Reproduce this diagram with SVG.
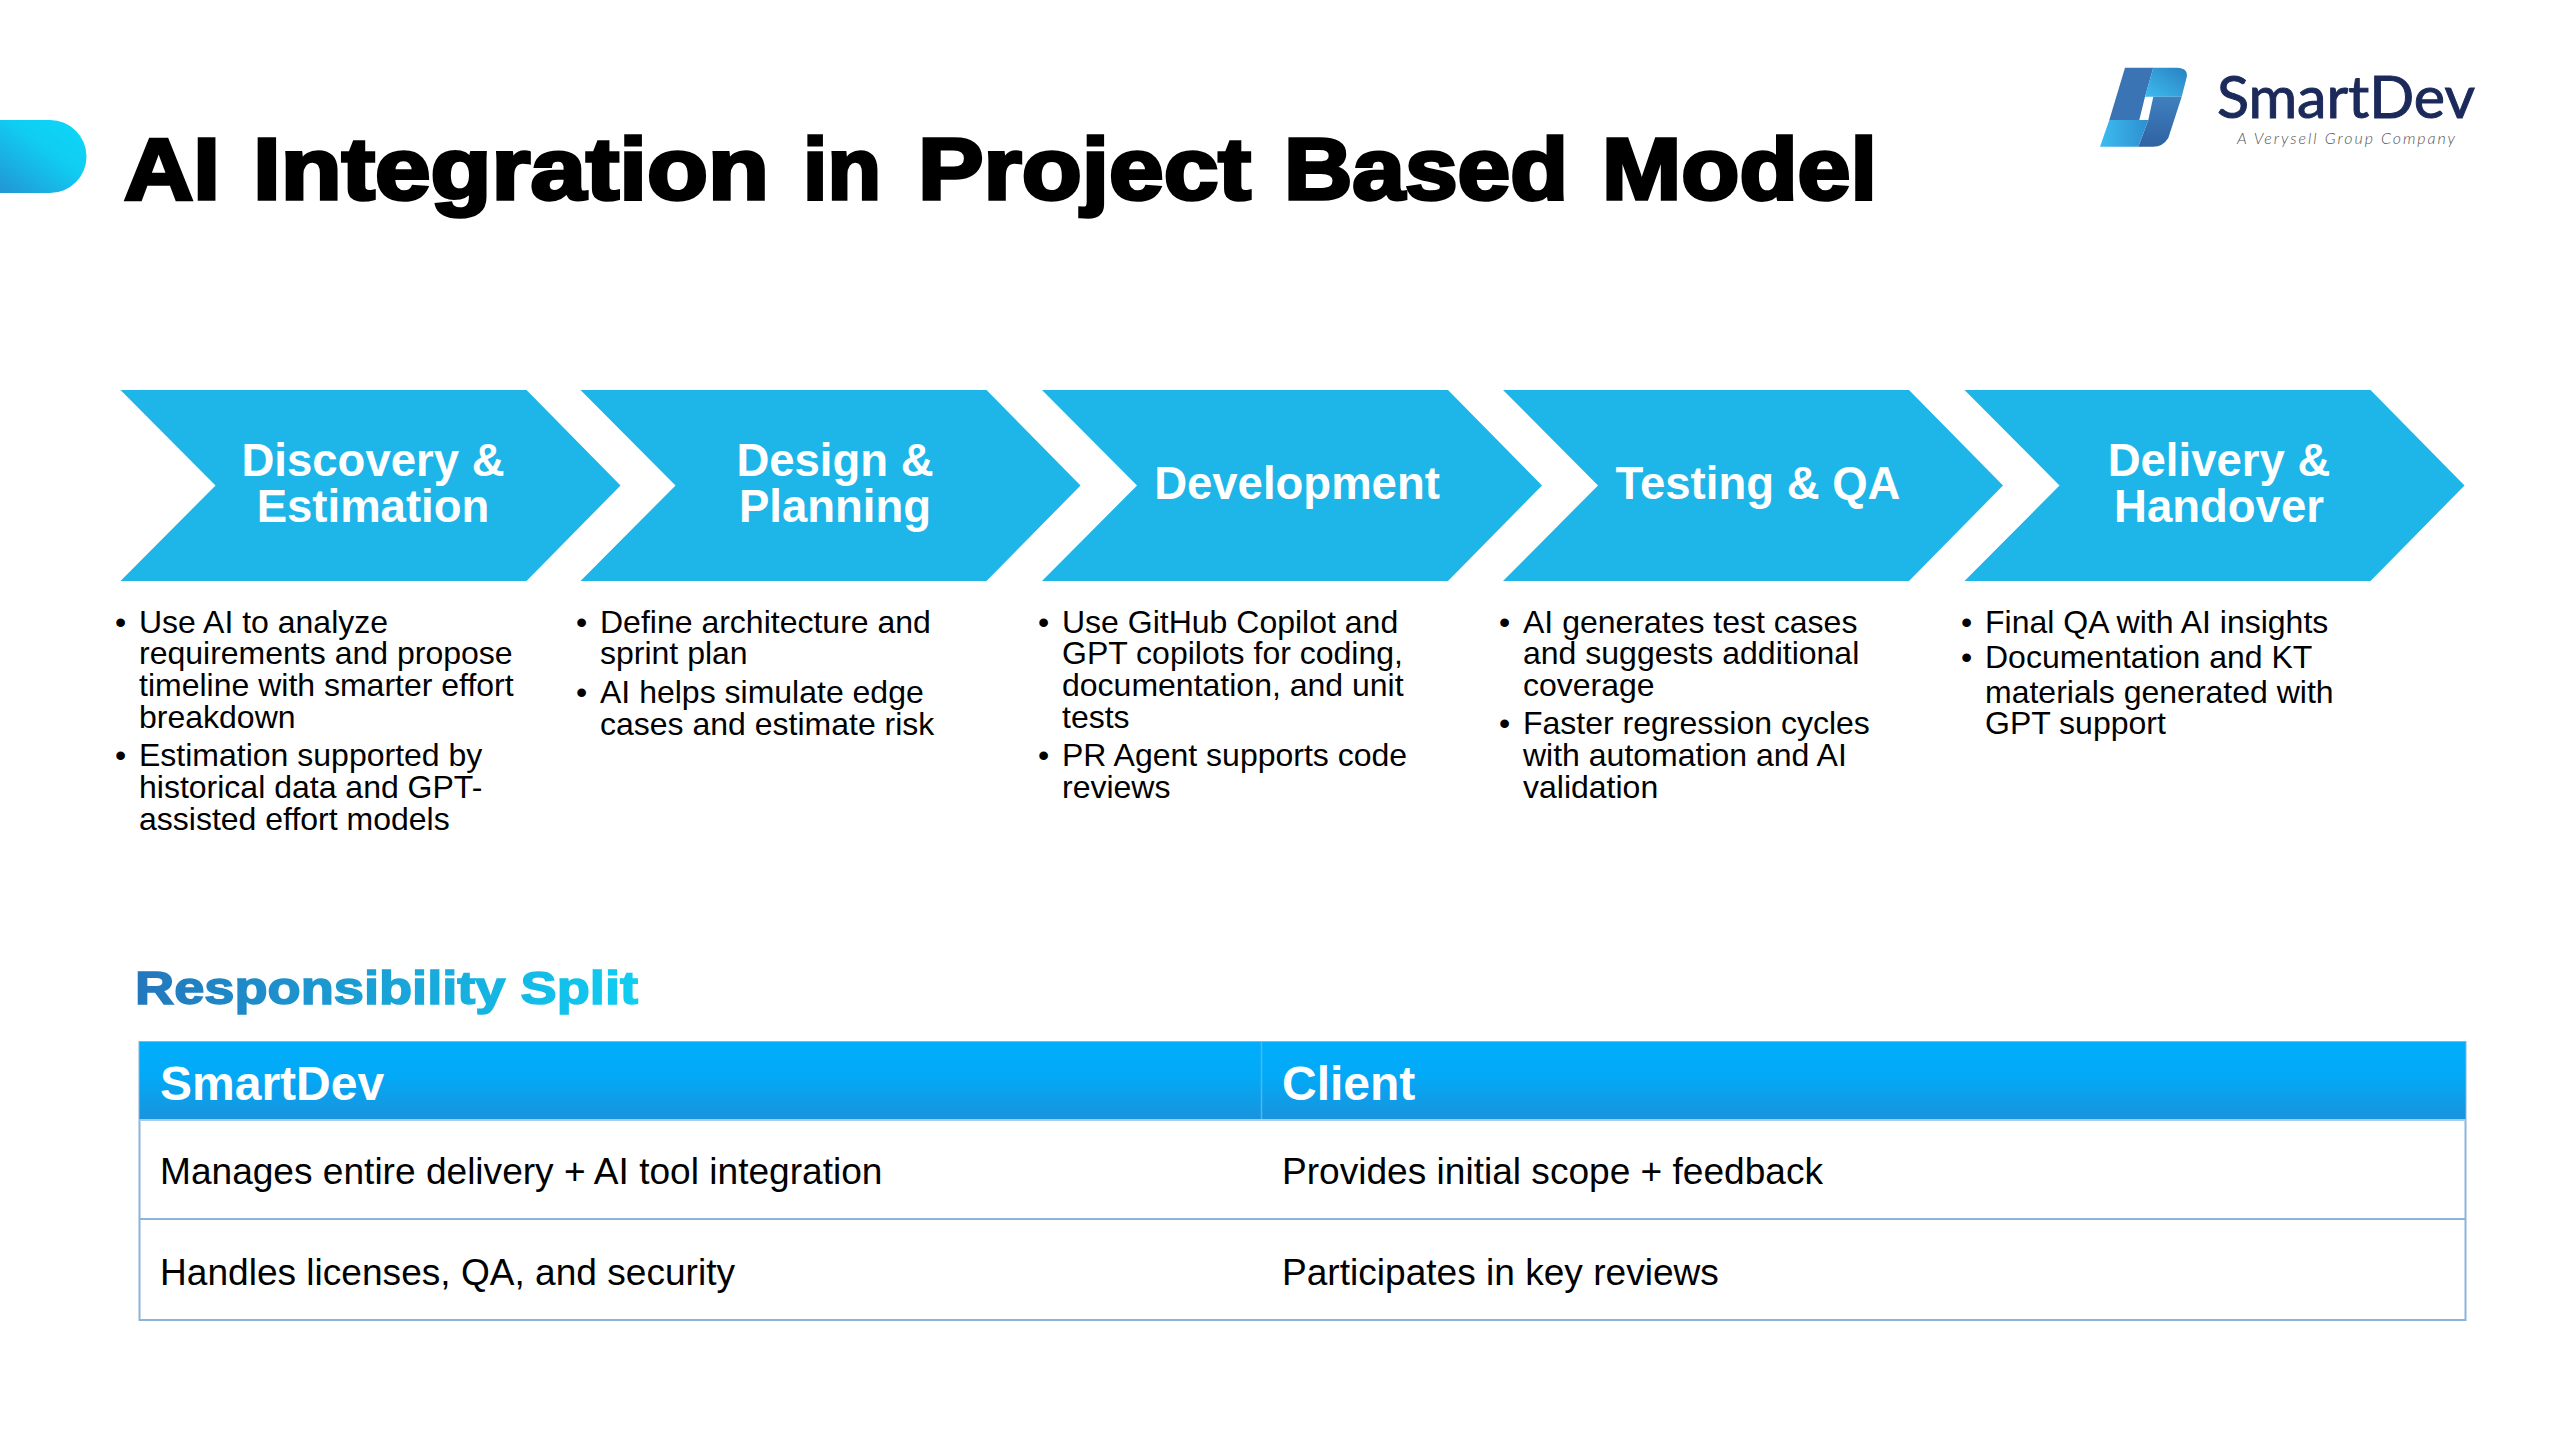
<svg xmlns="http://www.w3.org/2000/svg" width="2560" height="1440" viewBox="0 0 2560 1440">
<style>
text{font-family:"Liberation Sans",Arial,sans-serif}
.chev{fill:#1eb5e8}
.ct{fill:#fff;font-weight:700;font-size:45.500px;text-anchor:middle}
.b{fill:#000;font-size:32px}
.th{fill:#fff;font-weight:700;font-size:48px}
.td{fill:#000;font-size:37.100px}
.ln{stroke:#8ab4d8;stroke-width:2;fill:none}
.logo{font-family:Lato,"Liberation Sans",sans-serif}
</style>
<defs>
<linearGradient id="pill" x1="0" y1="1" x2="1" y2="0"><stop offset="0" stop-color="#2490d2"/><stop offset="0.6" stop-color="#10cdf2"/><stop offset="1" stop-color="#0cd8f8"/></linearGradient>
<linearGradient id="head" x1="0" y1="0" x2="0" y2="1"><stop offset="0" stop-color="#00aefc"/><stop offset="0.45" stop-color="#03a9f6"/><stop offset="1" stop-color="#1a92dc"/></linearGradient>
<linearGradient id="rs" gradientUnits="userSpaceOnUse" x1="135" y1="0" x2="640" y2="0"><stop offset="0" stop-color="#2377bc"/><stop offset="1" stop-color="#10cef2"/></linearGradient>
<linearGradient id="lgB" x1="0" y1="1" x2="1" y2="0"><stop offset="0" stop-color="#3cbcf0"/><stop offset="1" stop-color="#2a80c0"/></linearGradient>
<linearGradient id="lgC" x1="0" y1="0" x2="0" y2="1"><stop offset="0" stop-color="#3f80bf"/><stop offset="1" stop-color="#2f62a2"/></linearGradient>
<linearGradient id="lgD" x1="0" y1="0" x2="1" y2="0"><stop offset="0" stop-color="#3bbcf0"/><stop offset="1" stop-color="#2f8fd0"/></linearGradient>
<polygon id="chv" points="0,0 406,0 500,95.500 406,191 0,191 95,95.500"/>
</defs>
<g id="accent"><path d="M-10 120H50A36.500 36.500 0 0 1 50 193H-10Z" fill="url(#pill)"/></g>
<g id="title"><text y="199" font-size="87" font-weight="700" fill="#000" stroke="#000" stroke-width="3.500" stroke-linejoin="miter"><tspan x="124" textLength="96" lengthAdjust="spacingAndGlyphs">AI</tspan> <tspan x="253" textLength="516" lengthAdjust="spacingAndGlyphs">Integration</tspan> <tspan x="803" textLength="78" lengthAdjust="spacingAndGlyphs">in</tspan> <tspan x="918" textLength="333" lengthAdjust="spacingAndGlyphs">Project</tspan> <tspan x="1284" textLength="284" lengthAdjust="spacingAndGlyphs">Based</tspan> <tspan x="1602" textLength="275" lengthAdjust="spacingAndGlyphs">Model</tspan></text></g>
<g id="logo">
<path d="M2125 67.700H2153.300L2145 96.700L2139.300 120H2109.300Z" fill="#3a74b5"/>
<path d="M2153.300 67.700H2176.700Q2190 68 2186 80L2181.700 96.700H2145Z" fill="url(#lgB)"/>
<path d="M2153.300 96.700H2181.700L2168.300 138Q2163 146.700 2153 146.700H2138.300L2148.300 120Z" fill="url(#lgC)"/>
<path d="M2109.300 120H2148.300L2138.300 146.700H2100Z" fill="url(#lgD)"/>
<text class="logo" x="2217" y="118" font-size="58" fill="#1b2a5a" stroke="#1b2a5a" stroke-width="1" textLength="258" lengthAdjust="spacingAndGlyphs">SmartDev</text>
<text class="logo" x="2237" y="144" font-size="16" font-style="italic" font-weight="300" fill="#555" textLength="218">A Verysell Group Company</text>
</g>
<g id="step1"><use href="#chv" x="120.500" y="390" class="chev"/>
<text class="ct"><tspan x="373" y="476">Discovery &amp;</tspan><tspan x="373" y="522">Estimation</tspan></text>
<text class="b" x="115" y="633">•</text><text class="b" x="139" y="633">Use AI to analyze</text><text class="b" x="139" y="664">requirements and propose</text><text class="b" x="139" y="696">timeline with smarter effort</text><text class="b" x="139" y="728">breakdown</text><text class="b" x="115" y="766">•</text><text class="b" x="139" y="766">Estimation supported by</text><text class="b" x="139" y="798">historical data and GPT-</text><text class="b" x="139" y="830">assisted effort models</text></g>
<g id="step2"><use href="#chv" x="580.500" y="390" class="chev"/>
<text class="ct"><tspan x="835" y="476">Design &amp;</tspan><tspan x="835" y="522">Planning</tspan></text>
<text class="b" x="576" y="633">•</text><text class="b" x="600" y="633">Define architecture and</text><text class="b" x="600" y="664">sprint plan</text><text class="b" x="576" y="703">•</text><text class="b" x="600" y="703">AI helps simulate edge</text><text class="b" x="600" y="735">cases and estimate risk</text></g>
<g id="step3"><use href="#chv" x="1042" y="390" class="chev"/>
<text class="ct" x="1297" y="499">Development</text>
<text class="b" x="1038" y="633">•</text><text class="b" x="1062" y="633">Use GitHub Copilot and</text><text class="b" x="1062" y="664">GPT copilots for coding,</text><text class="b" x="1062" y="696">documentation, and unit</text><text class="b" x="1062" y="728">tests</text><text class="b" x="1038" y="766">•</text><text class="b" x="1062" y="766">PR Agent supports code</text><text class="b" x="1062" y="798">reviews</text></g>
<g id="step4"><use href="#chv" x="1503" y="390" class="chev"/>
<text class="ct" x="1758" y="499">Testing &amp; QA</text>
<text class="b" x="1499" y="633">•</text><text class="b" x="1523" y="633">AI generates test cases</text><text class="b" x="1523" y="664">and suggests additional</text><text class="b" x="1523" y="696">coverage</text><text class="b" x="1499" y="734">•</text><text class="b" x="1523" y="734">Faster regression cycles</text><text class="b" x="1523" y="766">with automation and AI</text><text class="b" x="1523" y="798">validation</text></g>
<g id="step5"><use href="#chv" x="1964.500" y="390" class="chev"/>
<text class="ct"><tspan x="2219" y="476">Delivery &amp;</tspan><tspan x="2219" y="522">Handover</tspan></text>
<text class="b" x="1961" y="633">•</text><text class="b" x="1985" y="633">Final QA with AI insights</text><text class="b" x="1961" y="668">•</text><text class="b" x="1985" y="668">Documentation and KT</text><text class="b" x="1985" y="703">materials generated with</text><text class="b" x="1985" y="734">GPT support</text></g>
<g id="resp-title"><text x="135" y="1004" font-size="46" font-weight="700" fill="url(#rs)" stroke="url(#rs)" stroke-width="1.500" textLength="503" lengthAdjust="spacingAndGlyphs">Responsibility Split</text></g>
<g id="table">
<rect class="ln" x="139.500" y="1042" width="2326" height="278"/>
<path class="ln" d="M139.500 1219H2465.500"/>
<rect x="139.500" y="1042" width="2326" height="78" fill="url(#head)"/>
<path d="M1261.500 1042V1120" stroke="#4ab8f0" stroke-width="1.500"/>
<path d="M139.500 1120H2465.500" stroke="#a8cdea" stroke-width="2"/>
<text class="th" x="160" y="1100">SmartDev</text><text class="th" x="1282" y="1100">Client</text>
<text class="td" x="160" y="1184">Manages entire delivery + AI tool integration</text><text class="td" x="1282" y="1184">Provides initial scope + feedback</text>
<text class="td" x="160" y="1284.500">Handles licenses, QA, and security</text><text class="td" x="1282" y="1284.500">Participates in key reviews</text>
</g>
</svg>
